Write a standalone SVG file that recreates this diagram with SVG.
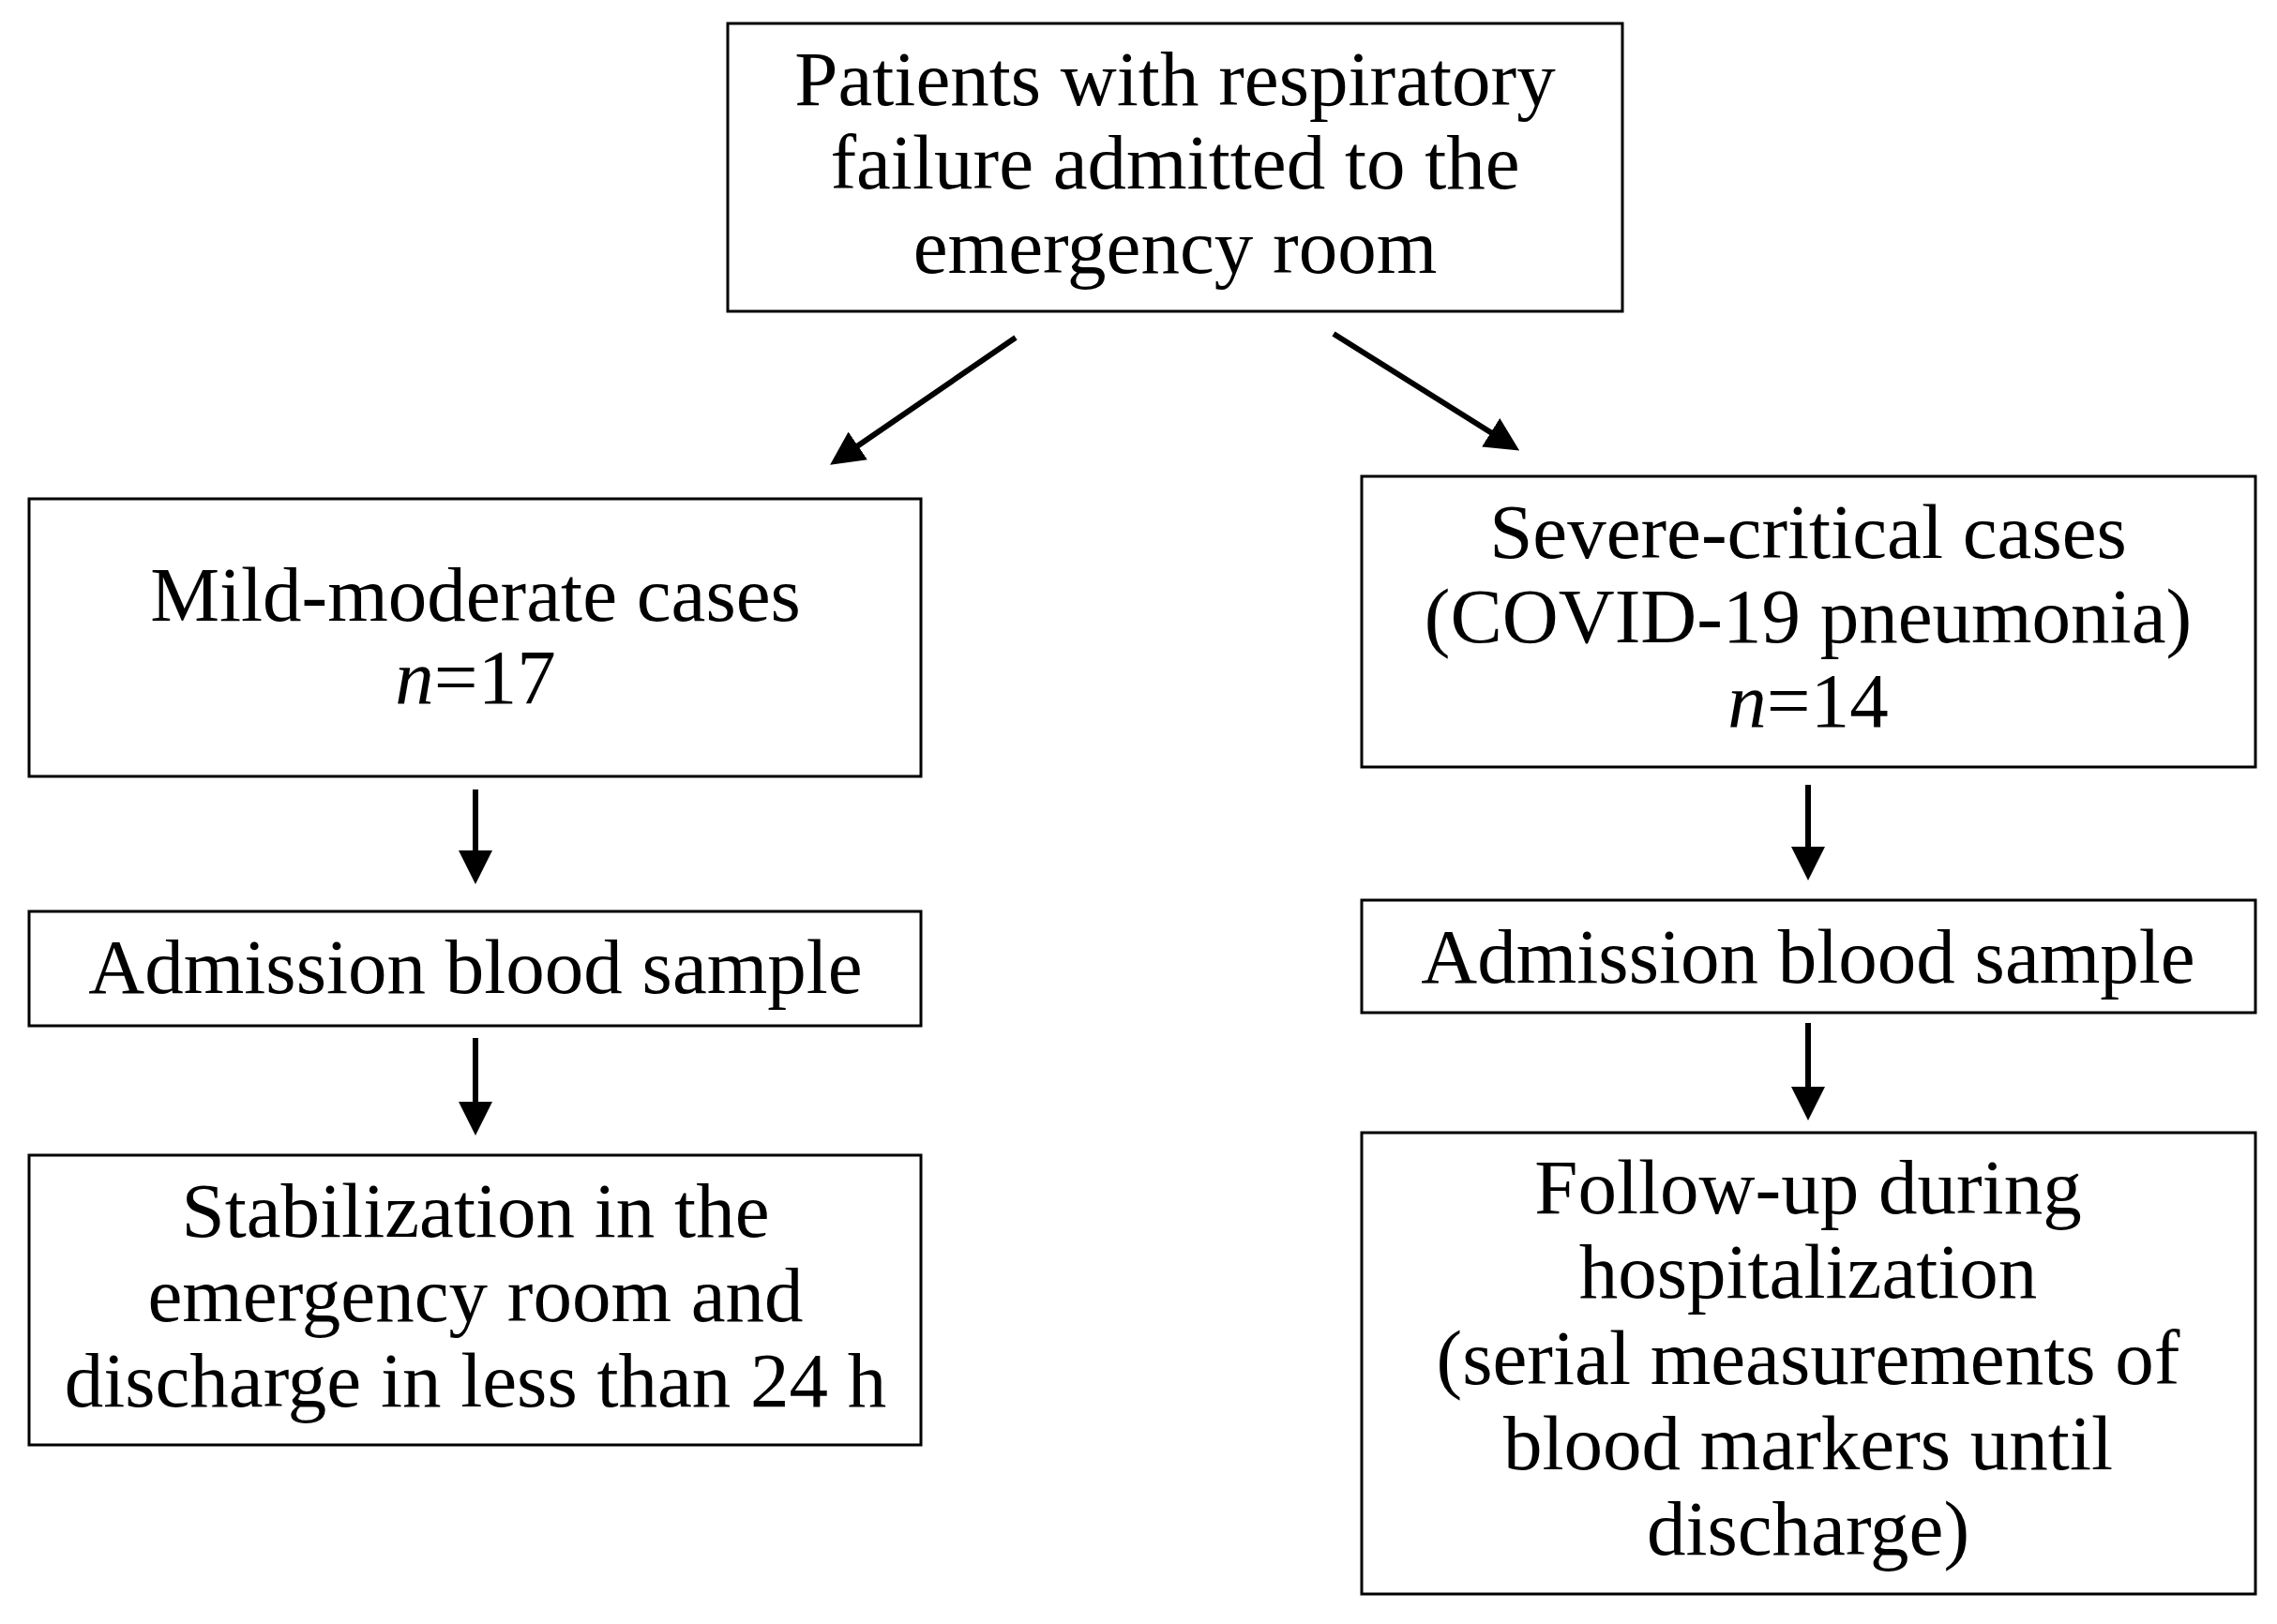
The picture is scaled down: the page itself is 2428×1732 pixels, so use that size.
<svg xmlns="http://www.w3.org/2000/svg" width="2428" height="1732" viewBox="0 0 2428 1732">
<style>
.b{fill:#fff;stroke:#000;stroke-width:3}
.t{font-family:"Liberation Serif",serif;font-size:83px;text-anchor:middle;fill:#000}
.c{stroke:#000;stroke-width:6;fill:none;marker-end:url(#a)}
</style>
<defs><marker id="a" markerWidth="6" markerHeight="6" refX="4" refY="3" orient="auto" markerUnits="strokeWidth"><path d="M0,0L6,3L0,6z" fill="#000"/></marker></defs>
<rect width="2428" height="1732" fill="#fff"/>
<g id="top"><rect class="b" x="776" y="25" width="954" height="307"/>
<text class="t" x="1253" y="112">Patients with respiratory</text><text class="t" x="1253" y="201">failure admitted to the</text><text class="t" x="1253" y="291">emergency room</text></g>
<g id="mild"><rect class="b" x="31" y="532" width="951" height="296"/>
<text class="t" x="507" y="662">Mild-moderate cases</text><text class="t" x="507" y="750"><tspan font-style="italic">n</tspan>=17</text></g>
<g id="severe"><rect class="b" x="1452" y="508" width="953" height="310"/>
<text class="t" x="1928" y="595">Severe-critical cases</text><text class="t" x="1928" y="685">(COVID-19 pneumonia)</text><text class="t" x="1928" y="775"><tspan font-style="italic">n</tspan>=14</text></g>
<g id="blood1"><rect class="b" x="31" y="972" width="951" height="122"/><text class="t" x="507" y="1059">Admission blood sample</text></g>
<g id="blood2"><rect class="b" x="1452" y="960" width="953" height="120"/><text class="t" x="1928" y="1048">Admission blood sample</text></g>
<g id="stab"><rect class="b" x="31" y="1232" width="951" height="309"/>
<text class="t" x="507" y="1319">Stabilization in the</text><text class="t" x="507" y="1409">emergency room and</text><text class="t" x="507" y="1500">discharge in less than 24 h</text></g>
<g id="follow"><rect class="b" x="1452" y="1208" width="953" height="492"/>
<text class="t" x="1928" y="1294">Follow-up during</text><text class="t" x="1928" y="1384">hospitalization</text><text class="t" x="1928" y="1476">(serial measurements of</text><text class="t" x="1928" y="1567">blood markers until</text><text class="t" x="1928" y="1658">discharge)</text></g>
<g id="connectors">
<line class="c" x1="1083" y1="360" x2="895" y2="489"/>
<line class="c" x1="1422" y1="356" x2="1610" y2="474"/>
<line class="c" x1="507" y1="842" x2="507" y2="931"/>
<line class="c" x1="507" y1="1107" x2="507" y2="1199"/>
<line class="c" x1="1928" y1="837" x2="1928" y2="927"/>
<line class="c" x1="1928" y1="1091" x2="1928" y2="1183"/>
</g>
</svg>
